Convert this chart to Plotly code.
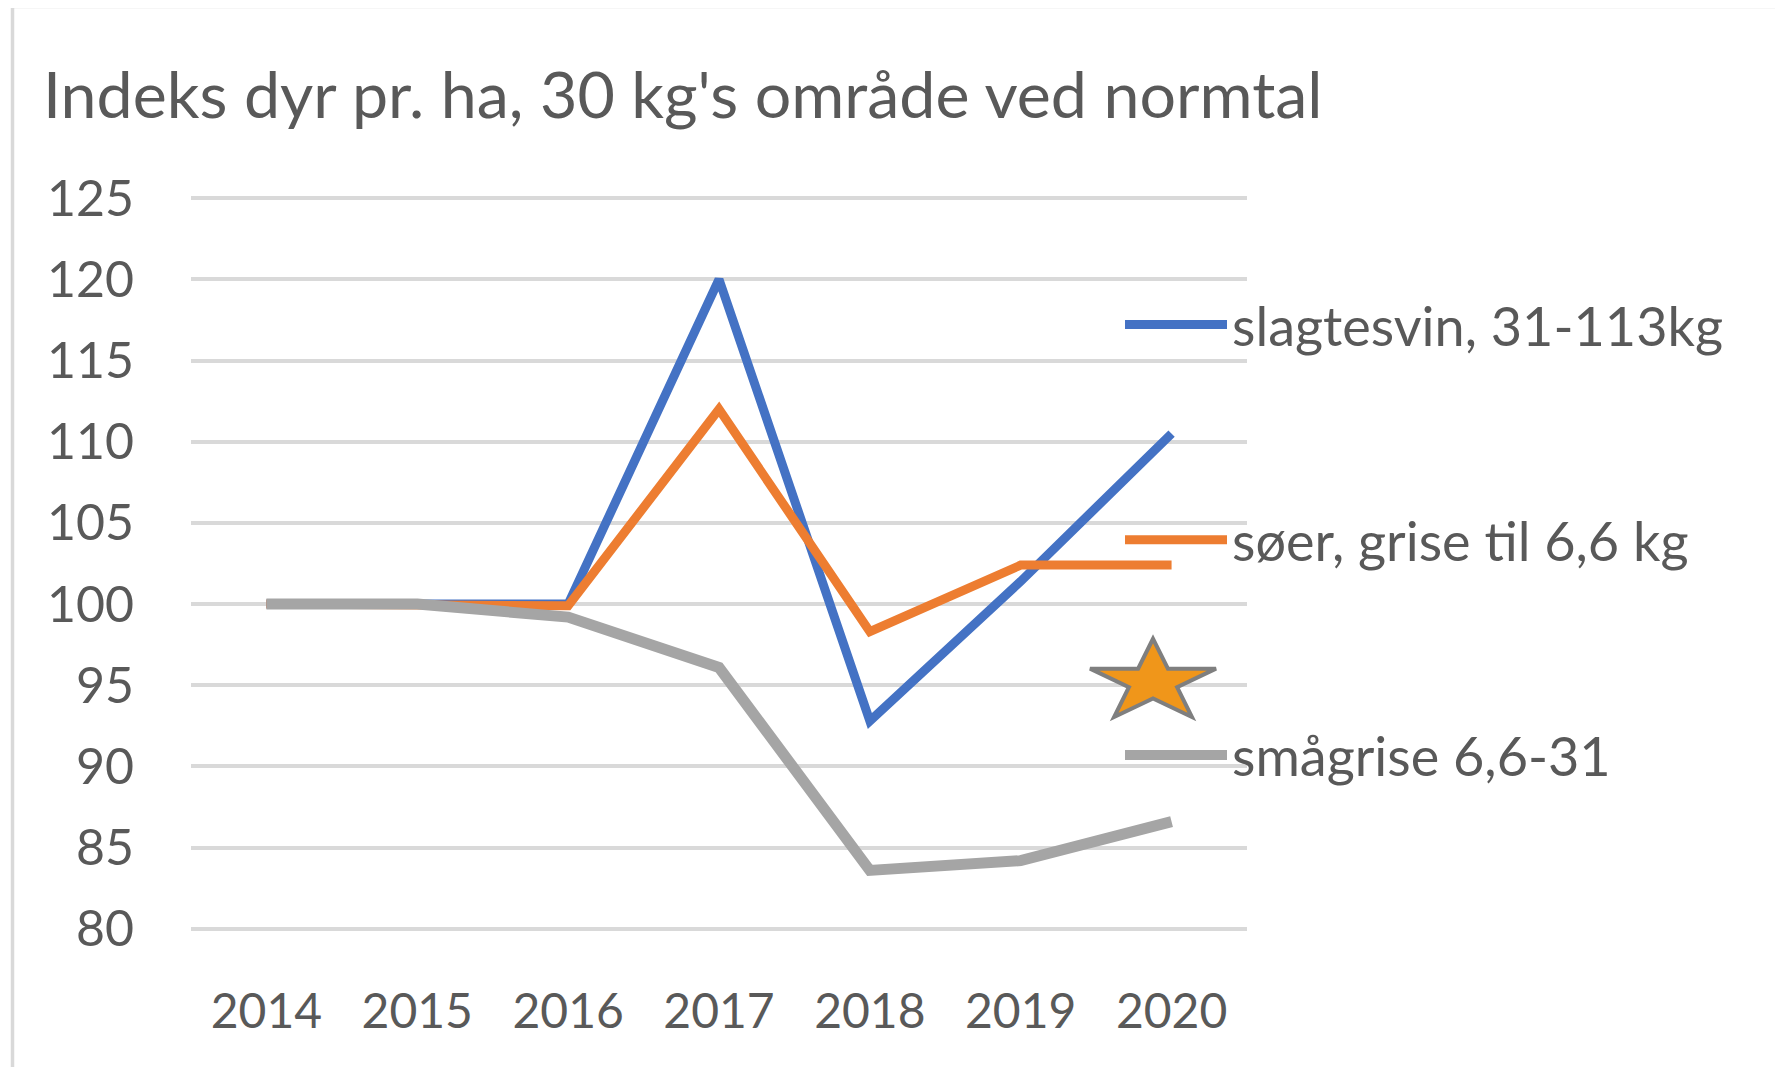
import math
import plotly.graph_objects as go

# data
years = [2014, 2015, 2016, 2017, 2018, 2019, 2020]
slagtesvin = [100, 100, 100, 120.0, 92.8, 101.4, 110.5]
soer = [100, 100, 99.9, 112.0, 98.3, 102.4, 102.4]
smaagrise = [100, 100, 99.2, 96.1, 83.6, 84.2, 86.6]

series_names = ["slagtesvin, 31-113kg", "søer, grise til 6,6 kg", "smågrise 6,6-31"]
series_values = [slagtesvin, soer, smaagrise]
series_colors = ["#4472C4", "#ED7D31", "#A5A5A5"]
series_widths = [9, 9, 11]

y_ticks = [80, 85, 90, 95, 100, 105, 110, 115, 120, 125]
title = "Indeks dyr pr. ha, 30 kg's område ved normtal"

# star decoration position (paper x, data y)
star_x = 0.911
star_y = 95.2

W, H = 1783, 1067
OFF = 8  # page body margin
L, R, T, B = 191 - OFF, 536 + OFF, 197 - OFF, 137 + OFF
pw, ph = W - L - R, H - T - B
FONT = "Lato"
TXT = "#595959"


def px(x):
    # screen px -> paper x
    return (x - OFF - L) / pw


def py(y):
    # screen px -> paper y
    return (H - B - (y - OFF)) / ph


fig = go.Figure()
for name, vals, col, w in zip(series_names, series_values, series_colors, series_widths):
    fig.add_trace(go.Scatter(
        x=years, y=vals, name=name, mode="lines",
        line=dict(color=col, width=w),
        legendgroup=name,
    ))

# stretched star outline path, in pixels around the anchor
Rv, sx = 43.3, 1.53
pts = []
for i in range(10):
    ang = math.pi / 2 + i * math.pi / 5
    r = Rv if i % 2 == 0 else Rv * 0.382
    pts.append((r * math.cos(ang) * sx, r * math.sin(ang)))
star_path = "M" + " L".join(f"{a:.1f},{b:.1f}" for a, b in pts) + " Z"

fig.add_shape(
    type="path", path=star_path,
    xref="paper", yref="y", xsizemode="pixel", ysizemode="pixel",
    xanchor=star_x, yanchor=star_y,
    fillcolor="#F0961A", line=dict(color="#7F7F7F", width=4),
)

# chart frame (top and left edge visible)
fig.add_shape(
    type="rect", xref="paper", yref="paper",
    x0=px(12.5), x1=px(1900), y0=py(6.5), y1=py(1200),
    line=dict(color="#D9D9D9", width=3.5), layer="below",
)

fig.update_layout(
    width=W, height=H,
    margin=dict(l=L, r=R, t=T, b=B),
    paper_bgcolor="white", plot_bgcolor="white",
    font=dict(family=FONT, color=TXT, size=48),
    title=dict(
        text=title, x=35 / W, xanchor="left", xref="container",
        y=1 - 87 / H, yanchor="middle", yref="container",
        font=dict(family=FONT, size=64.5, color=TXT),
    ),
    showlegend=True,
    legend=dict(
        x=px(1120), xanchor="left", y=py(283), yanchor="top",
        bgcolor="rgba(0,0,0,0)", font=dict(size=54, color=TXT),
        tracegroupgap=142, itemwidth=102, traceorder="grouped",
    ),
    xaxis=dict(
        range=[2013.5, 2020.5], tickvals=years, ticktext=[str(y) for y in years],
        showgrid=False, zeroline=False, showline=False,
        ticks="", ticklabelstandoff=49,
        tickfont=dict(size=48, color=TXT),
    ),
    yaxis=dict(
        range=[79.93, 125.07], tickvals=y_ticks,
        showgrid=True, gridcolor="#D9D9D9", gridwidth=4,
        zeroline=False, showline=False, ticks="", ticklabelstandoff=56,
        tickfont=dict(size=50, color=TXT),
    ),
)

fig.write_html("out.html")
